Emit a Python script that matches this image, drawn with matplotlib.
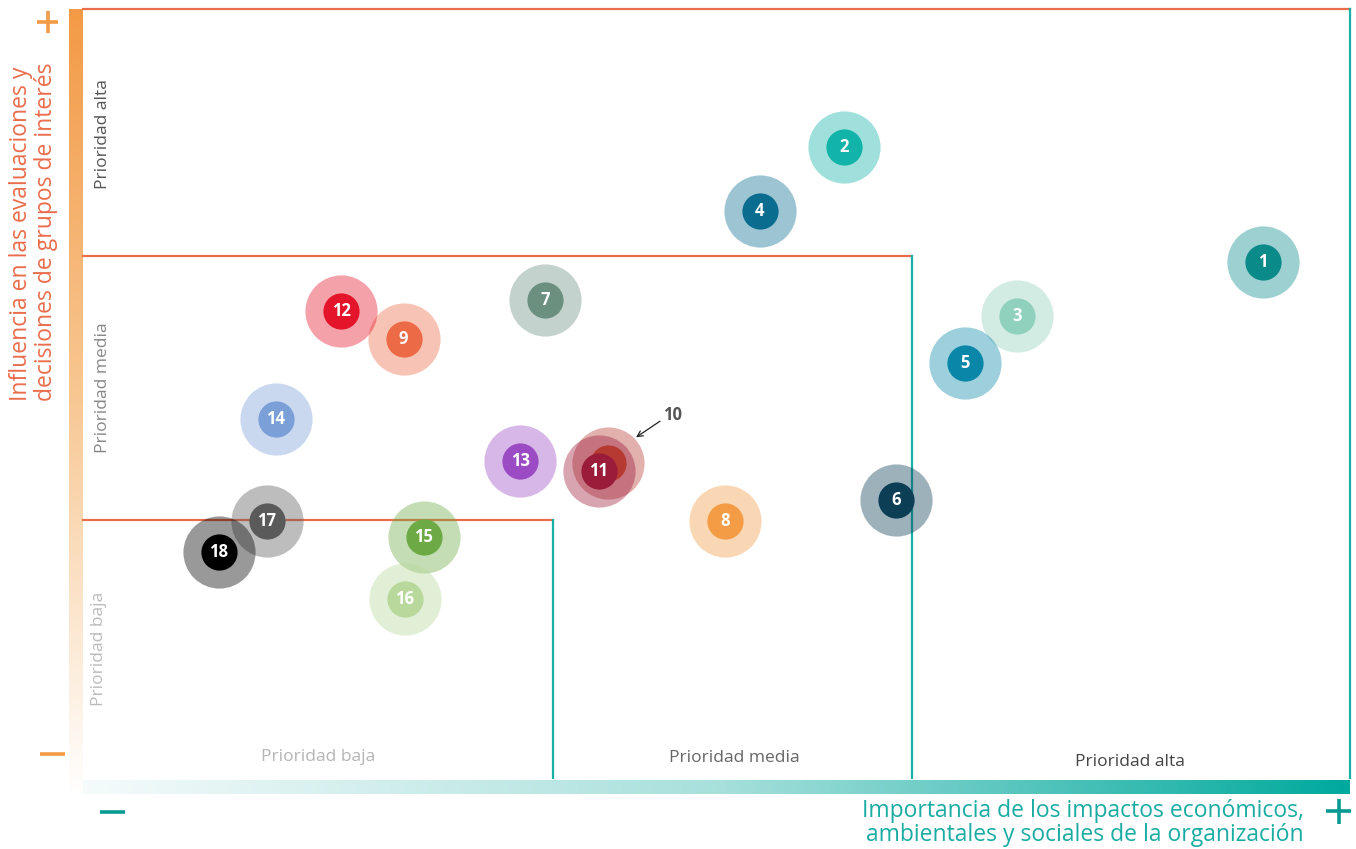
import numpy as np
import matplotlib
matplotlib.use("Agg")
import matplotlib.pyplot as plt
from matplotlib.colors import LinearSegmentedColormap, to_rgba

plt.rcParams['font.family'] = ['Open Sans', 'DejaVu Sans']

# ---- data -------------------------------------------------------------
labels = [str(i) for i in range(1, 19)]
impact = [9.31, 6.01, 7.37, 5.34, 6.96, 6.42, 3.65, 5.07, 2.53,
          4.14, 4.07, 2.04, 3.45, 1.52, 2.69, 2.54, 1.45, 1.07]
influence = [6.71, 8.21, 6.01, 7.37, 5.40, 3.62, 6.22, 3.34, 5.71,
             4.10, 3.99, 6.07, 4.12, 4.67, 3.13, 2.33, 3.34, 2.94]
colors = ['#0b8a8a', '#12b3a8', '#8fd1bc', '#0a6c8f', '#0a87a8', '#0c3e55',
          '#6b9080', '#f39c45', '#ec6a45', '#b73a32', '#9b1c3a', '#e4142a',
          '#9b4bc3', '#7b9fd7', '#6daa45', '#b8d89c', '#5a5a5a', '#000000']
callout = '10'          # topic whose core is hidden and labelled outside

x_cuts = [3.71, 6.54]   # impact thresholds (low / medium / high)
y_cuts = [3.35, 6.79]   # influence thresholds
x_max, y_max = 10, 10

W, H = 1356, 849
fig = plt.figure(figsize=(W / 100, H / 100), dpi=100)

# background layer in pixel units for the decorative axis bars
bg = fig.add_axes([0, 0, 1, 1])
bg.set_xlim(0, W)
bg.set_ylim(H, 0)
bg.axis('off')

orange = '#f39a46'
teal = '#00a99d'
red_line = '#ea6d4c'
teal_line = '#1ab0a8'

# vertical orange gradient bar
cm_v = LinearSegmentedColormap.from_list('v', ['#ffffff', '#f8c894', orange])
grad = np.linspace(0, 1, 256).reshape(-1, 1)
bg.imshow(grad, cmap=cm_v, extent=[69, 83, 796, 9], aspect='auto',
          origin='lower', zorder=1)
# horizontal teal gradient bar
cm_h = LinearSegmentedColormap.from_list('h', ['#f5fbfb', '#a8e0dc', teal])
bg.imshow(np.linspace(0, 1, 256).reshape(1, -1), cmap=cm_h,
          extent=[83, 1350, 794, 780], aspect='auto', zorder=1)

# plus / minus marks at the ends of each axis
bg.plot([37, 58], [22, 22], color=orange, lw=2.6, solid_capstyle='butt')
bg.plot([47.5, 47.5], [11, 33], color=orange, lw=2.6, solid_capstyle='butt')
bg.plot([40, 65], [754, 754], color=orange, lw=2.6, solid_capstyle='butt')
bg.plot([100, 125], [812, 812], color='#0a9a94', lw=2.6, solid_capstyle='butt')
bg.plot([1326, 1351], [811, 811], color='#0a9a94', lw=2.6, solid_capstyle='butt')
bg.plot([1338.5, 1338.5], [799, 824], color='#0a9a94', lw=2.6, solid_capstyle='butt')

# axis titles
for xpos, line in [(21, 'Influencia en las evaluaciones y'),
                   (46, 'decisiones de grupos de interés')]:
    bg.text(xpos, 401, line, rotation=90, rotation_mode='anchor',
            ha='left', va='center', fontsize=16.5, color=red_line)
bg.text(1304, 823, 'Importancia de los impactos económicos,\n'
        'ambientales y sociales de la organización',
        ha='right', va='center', multialignment='right', fontsize=16.5,
        color='#1aaca3', linespacing=1.0)

# ---- matrix ----------------------------------------------------------------
ax = fig.add_axes([83 / W, 1 - 778 / H, (1350 - 83) / W, (778 - 9) / H])
ax.set_xlim(0, x_max)
ax.set_ylim(0, y_max)
ax.axis('off')
ax.patch.set_alpha(0)

lw = 1.6
ax.plot([0, x_max], [y_max, y_max], color=red_line, lw=lw, clip_on=False)
ax.plot([0, x_cuts[1]], [y_cuts[1], y_cuts[1]], color=red_line, lw=lw, clip_on=False)
ax.plot([0, x_cuts[0]], [y_cuts[0], y_cuts[0]], color=red_line, lw=lw, clip_on=False)
ax.plot([x_cuts[0], x_cuts[0]], [0, y_cuts[0]], color=teal_line, lw=lw, clip_on=False)
ax.plot([x_cuts[1], x_cuts[1]], [0, y_cuts[1]], color=teal_line, lw=lw, clip_on=False)
ax.plot([x_max, x_max], [0, y_max], color=teal_line, lw=lw, clip_on=False)

# zone names
zfs = 12.5
ax.text(0.16, 8.37, 'Prioridad alta', rotation=90,
        ha='center', va='center', fontsize=zfs, color='#555555')
ax.text(0.16, 5.07, 'Prioridad media', rotation=90,
        ha='center', va='center', fontsize=zfs, color='#888888')
ax.text(0.13, 1.68, 'Prioridad baja', rotation=90,
        ha='center', va='center', fontsize=zfs, color='#bbbbbb')
ax.text(1.855, 0.27, 'Prioridad baja', ha='center', va='center',
        fontsize=zfs, color='#b5b5b5')
ax.text(5.14, 0.26, 'Prioridad media', ha='center',
        va='center', fontsize=zfs, color='#666666')
ax.text(8.26, 0.21, 'Prioridad alta', ha='center',
        va='center', fontsize=zfs, color='#444444')

# bubbles: translucent halo plus solid core with the topic number
for i, (xv, yv, c, lab) in enumerate(zip(impact, influence, colors, labels)):
    ax.scatter([xv], [yv], s=2700, color=to_rgba(c, 0.4), linewidths=0,
               zorder=2 + i * 0.01)
for i, (xv, yv, c, lab) in enumerate(zip(impact, influence, colors, labels)):
    z = 3 + i * 0.02
    ax.scatter([xv], [yv], s=680, color=c, linewidths=0, zorder=z)
    if lab != callout:
        ax.text(xv, yv, lab, ha='center', va='center', color='white',
                fontsize=12, fontweight='bold', zorder=z + 0.01)

# callout for the bubble hidden behind 11
k = labels.index(callout)
ax.annotate('', xy=(impact[k] + 0.225, influence[k] + 0.33),
            xytext=(impact[k] + 0.414, influence[k] + 0.54),
            arrowprops=dict(arrowstyle='->', color='#222222', lw=0.9,
                            shrinkA=0, shrinkB=0), zorder=10)
ax.text(impact[k] + 0.44, influence[k] + 0.62, callout, ha='left', va='center',
        fontsize=12, fontweight='bold', color='#555555', zorder=10)

fig.savefig('out.png', dpi=100)
